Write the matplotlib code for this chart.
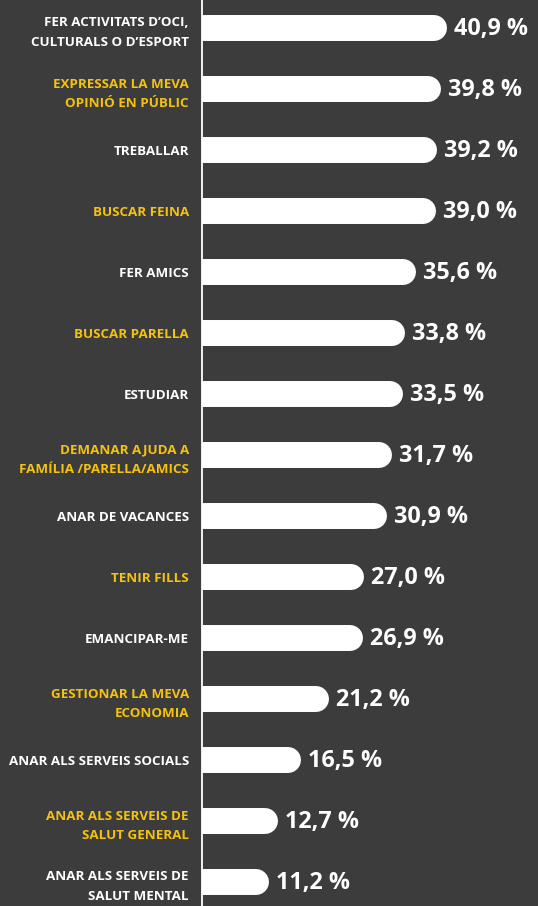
import matplotlib.pyplot as plt

labels = [
    "FER ACTIVITATS D’OCI,\nCULTURALS O D’ESPORT",
    "EXPRESSAR LA MEVA\nOPINIÓ EN PÚBLIC",
    "TREBALLAR",
    "BUSCAR FEINA",
    "FER AMICS",
    "BUSCAR PARELLA",
    "ESTUDIAR",
    "DEMANAR AJUDA A\nFAMÍLIA /PARELLA/AMICS",
    "ANAR DE VACANCES",
    "TENIR FILLS",
    "EMANCIPAR-ME",
    "GESTIONAR LA MEVA\nECONOMIA",
    "ANAR ALS SERVEIS SOCIALS",
    "ANAR ALS SERVEIS DE\nSALUT GENERAL",
    "ANAR ALS SERVEIS DE\nSALUT MENTAL",
]
values = [40.9, 39.8, 39.2, 39.0, 35.6, 33.8, 33.5, 31.7, 30.9, 27.0, 26.9, 21.2, 16.5, 12.7, 11.2]

bg = '#3c3c3c'
yellow = '#f5c211'

plt.rcParams['font.family'] = ['Open Sans', 'DejaVu Sans']

fig = plt.figure(figsize=(5.38, 9.06), dpi=100, facecolor=bg)
ax = fig.add_axes([202 / 538, 0, 336 / 538, 1])
ax.set_facecolor(bg)

cap = 13 / 6  # round cap radius in data units (6 px per %)
for i, v in enumerate(values):
    ax.plot([0, v - cap], [i, i], color='white', linewidth=18.7,
            solid_capstyle='round')
    ax.annotate(f"{v:.1f} %".replace('.', ','), (v, i), xytext=(5, -1),
                textcoords='offset points', va='center', ha='left',
                color='white', fontsize=16.8, fontweight='bold')

ax.set_xlim(0, 56)
ax.set_ylim((906 - 28) / 61, -28 / 61)

ax.set_yticks(range(len(labels)))
ax.set_yticklabels(labels, fontsize=9.6, fontweight='bold', linespacing=1.65)
for k, t in enumerate(ax.get_yticklabels()):
    t.set_color('white' if k % 2 == 0 else yellow)
ax.tick_params(axis='y', length=0, pad=9.5)
ax.set_xticks([])

for s in ['top', 'right', 'bottom']:
    ax.spines[s].set_visible(False)
ax.spines['left'].set_color('white')
ax.spines['left'].set_linewidth(1.3)

fig.savefig('out.png', dpi=100, facecolor=bg)
